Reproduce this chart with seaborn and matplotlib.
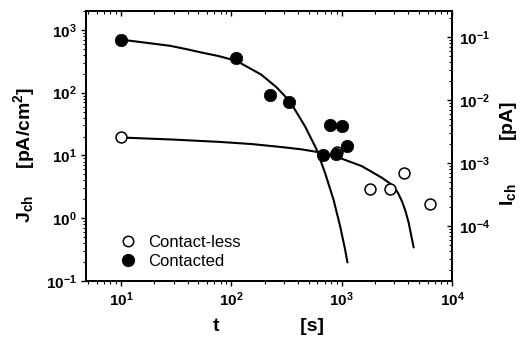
import matplotlib
matplotlib.use("Agg")
import matplotlib.pyplot as plt
import seaborn as sns
import pandas as pd
from matplotlib.lines import Line2D
from matplotlib.ticker import FixedLocator, FixedFormatter, LogLocator, NullFormatter

# measured points
contacted_t = [10, 111, 223, 335, 670, 783, 887, 1000, 1127]
contacted_j = [700, 355, 91, 72, 10, 30.3, 10.6, 29.2, 14.4]
contactless_t = [10, 900, 1807, 2716, 3640, 6350]
contactless_j = [19.5, 11.2, 2.96, 2.96, 5.3, 1.67]

# fitted curves
fit_contacted_t = [10, 15.2, 27.9, 39, 53.4, 75, 111, 187, 256, 339, 464, 593,
                   705, 841, 966, 1072, 1127]
fit_contacted_j = [700, 638, 557, 494, 436, 386, 322, 193, 122, 72.7, 29.2, 12.4,
                   5.3, 2.0, 0.755, 0.32, 0.198]
fit_contactless_t = [10, 29.7, 79.4, 152, 285, 433, 593, 934, 1520, 2310, 2950,
                     3230, 3510, 3780, 4040, 4490]
fit_contactless_j = [19.3, 17.9, 16.4, 15.2, 13.6, 12.5, 11.4, 9.3, 6.76, 4.42, 3.26,
                     2.54, 1.88, 1.31, 0.855, 0.343]

x_ticks = [10, 100, 1000, 10000]
x_labels = ["$10^{1}$", "$10^{2}$", "$10^{3}$", "$10^{4}$"]
yl_ticks = [0.1, 1, 10, 100, 1000]
yl_labels = ["$10^{-1}$", "$10^{0}$", "$10^{1}$", "$10^{2}$", "$10^{3}$"]
yr_ticks = [1e-4, 1e-3, 1e-2, 1e-1]
yr_labels = ["$10^{-4}$", "$10^{-3}$", "$10^{-2}$", "$10^{-1}$"]

sns.set_style("ticks", {"axes.edgecolor": "black", "text.color": "black",
                        "axes.labelcolor": "black", "xtick.color": "black",
                        "ytick.color": "black"})
plt.rcParams["font.family"] = ["Liberation Sans", "DejaVu Sans"]
plt.rcParams["mathtext.fontset"] = "custom"
plt.rcParams["mathtext.rm"] = "Liberation Sans:bold"
plt.rcParams["mathtext.it"] = "Liberation Sans:bold"
plt.rcParams["mathtext.bf"] = "Liberation Sans:bold"
plt.rcParams["mathtext.default"] = "rm"

fig = plt.figure(figsize=(5.21, 3.38), dpi=100)
ax = fig.add_axes([0.165, 0.1686, 0.7026, 0.7989])

ax.set_xscale("log")
ax.set_yscale("log")

fc = pd.DataFrame({"t": fit_contacted_t, "j": fit_contacted_j})
fl = pd.DataFrame({"t": fit_contactless_t, "j": fit_contactless_j})
sns.lineplot(data=fc, x="t", y="j", ax=ax, color="black", lw=1.5, sort=False,
             estimator=None, zorder=2)
sns.lineplot(data=fl, x="t", y="j", ax=ax, color="black", lw=1.5, sort=False,
             estimator=None, zorder=2)

sns.scatterplot(x=contactless_t, y=contactless_j, ax=ax, s=62, color="white",
                edgecolor="black", linewidth=1.1, zorder=3)
sns.scatterplot(x=contacted_t, y=contacted_j, ax=ax, s=80, color="black",
                edgecolor="black", linewidth=0.5, zorder=4)

ax.set_xlim(4.8, 10000)
ax.set_ylim(0.1, 2000)

ax.xaxis.set_major_locator(FixedLocator(x_ticks))
ax.xaxis.set_major_formatter(FixedFormatter(x_labels))
ax.xaxis.set_minor_locator(LogLocator(base=10, subs=range(2, 10), numticks=20))
ax.xaxis.set_minor_formatter(NullFormatter())
ax.yaxis.set_major_locator(FixedLocator(yl_ticks))
ax.yaxis.set_major_formatter(FixedFormatter(yl_labels))
ax.yaxis.set_minor_locator(LogLocator(base=10, subs=range(2, 10), numticks=20))
ax.yaxis.set_minor_formatter(NullFormatter())

ax.tick_params(which="major", direction="out", length=3.5, width=1, labelsize=11, pad=3)
ax.tick_params(which="minor", direction="out", length=2, width=0.8)

top = ax.secondary_xaxis("top")
top.xaxis.set_major_locator(FixedLocator(x_ticks))
top.xaxis.set_minor_locator(LogLocator(base=10, subs=range(2, 10), numticks=20))
top.tick_params(which="major", direction="in", length=3.5, width=1, labeltop=False)
top.tick_params(which="minor", direction="in", length=2, width=0.8)

ax2 = ax.twinx()
ax2.set_yscale("log")
ax2.set_ylim(1.34e-5, 0.259)
ax2.yaxis.set_major_locator(FixedLocator(yr_ticks))
ax2.yaxis.set_major_formatter(FixedFormatter(yr_labels))
ax2.yaxis.set_minor_locator(LogLocator(base=10, subs=range(2, 10), numticks=20))
ax2.yaxis.set_minor_formatter(NullFormatter())
ax2.tick_params(which="major", direction="in", length=3.5, width=1, labelsize=11, pad=5)
ax2.tick_params(which="minor", direction="in", length=2, width=0.8)

for a in (ax, ax2):
    for sp in a.spines.values():
        sp.set_linewidth(1.3)
        sp.set_visible(True)
for sp in top.spines.values():
    sp.set_linewidth(1.3)

ax.set_xlabel("t" + " " * 15 + "[s]", fontsize=14, fontweight="bold", labelpad=7)
ax.set_ylabel("J$_{\\rm ch}$" + " " * 5 + "[pA/cm$^{2}$]", fontsize=14, fontweight="bold")
ax.yaxis.set_label_coords(-0.134, 0.467)
ax2.set_ylabel("I$_{\\rm ch}$" + " " * 8 + "[pA]", fontsize=14, fontweight="bold")
ax2.yaxis.set_label_coords(1.125, 0.474)

handles = [
    Line2D([], [], marker="o", ls="", markersize=7.5, markerfacecolor="white",
           markeredgecolor="black", markeredgewidth=1.1),
    Line2D([], [], marker="o", ls="", markersize=8.5, color="black"),
]
ax.legend(handles, ["Contact-less", "Contacted"], loc="lower left",
          bbox_to_anchor=(0.055, 0.003), frameon=False, fontsize=12,
          handletextpad=0.6, labelspacing=0.2, handlelength=1.2, borderaxespad=0.3)

fig.savefig("out.png", dpi=100)
